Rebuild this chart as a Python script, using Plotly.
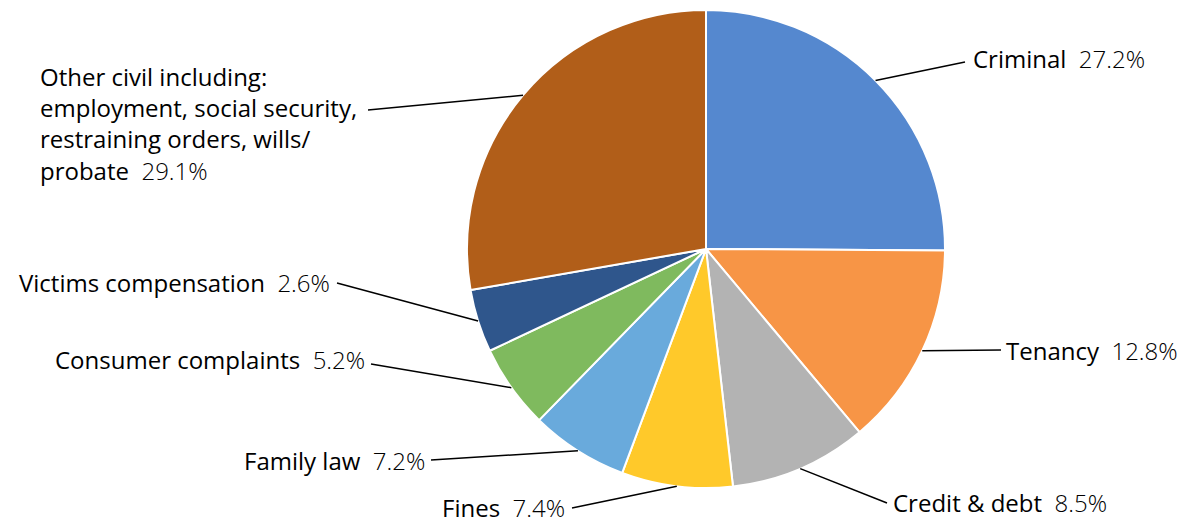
import math
import plotly.graph_objects as go

# ---- data ----
categories = ["Criminal", "Tenancy", "Credit & debt", "Fines", "Family law",
              "Consumer complaints", "Victims compensation",
              "Other civil including:<br>employment, social security,<br>restraining orders, wills/<br>probate"]
slice_values = [25.1, 13.8, 9.3, 7.5, 6.6, 5.7, 4.25, 27.75]
# percentages printed in the labels
label_pcts = ["27.2%", "12.8%", "8.5%", "7.4%", "7.2%", "5.2%", "2.6%", "29.1%"]
colors = ["#5588CF", "#F79546", "#B3B3B3", "#FFC92A", "#69AADC",
          "#7FBA5E", "#2F568C", "#B15E19"]

# ---- layout constants (pixels) ----
W, H = 1182, 525
CX, CY, R = 706, 249, 239
# label anchor positions: (x, y, xanchor)
label_pos = [(971, 59, "left"), (1004, 350, "left"), (891, 502, "left"),
             (567, 507, "right"), (427, 461, "right"), (367, 359, "right"),
             (332, 282, "right"), (38, 123, "left")]
# where each leader line meets its label
line_ends = [(965, 62), (1001, 350), (887, 503), (572, 508), (431, 460),
             (371, 364), (337, 283), (368, 110)]

FONT = "Open Sans"
FSIZE = 24


def px(x):
    return x / W


def py(y):
    return 1 - y / H


fig = go.Figure()
fig.add_trace(go.Pie(
    values=slice_values,
    labels=[c.replace("<br>", " ") for c in categories],
    sort=False,
    direction="clockwise",
    rotation=0,
    textinfo="none",
    hoverinfo="label",
    marker=dict(colors=colors, line=dict(color="white", width=2)),
    domain=dict(x=[px(CX - R), px(CX + R)], y=[py(CY + R), py(CY - R)]),
    showlegend=False,
))

total = sum(slice_values)
cum = 0.0
shapes = []
annotations = []
for i, v in enumerate(slice_values):
    mid = (cum + v / 2) / total * 2 * math.pi
    cum += v
    sx = CX + R * math.sin(mid)
    sy = CY - R * math.cos(mid)
    ex, ey = line_ends[i]
    shapes.append(dict(type="line", xref="paper", yref="paper",
                       x0=px(sx), y0=py(sy), x1=px(ex), y1=py(ey),
                       line=dict(color="black", width=1.5)))
    lx, ly, anc = label_pos[i]
    text = (categories[i] + "\u00a0\u00a0" +
            '<span style="font-weight:300">' + label_pcts[i] + "</span>")
    annotations.append(dict(x=px(lx), y=py(ly), xref="paper", yref="paper",
                            text=text, showarrow=False, xanchor=anc,
                            yanchor="middle", align="left",
                            font=dict(family=FONT, size=FSIZE, color="black",
                                      weight=500)))

fig.update_layout(
    width=W, height=H,
    margin=dict(l=0, r=0, t=0, b=0),
    paper_bgcolor="white",
    plot_bgcolor="white",
    shapes=shapes,
    annotations=annotations,
)

fig.write_html("out.html",
               config={"displayModeBar": False},
               post_script="document.body.style.margin='0';"
                           "document.body.style.overflow='hidden';")
